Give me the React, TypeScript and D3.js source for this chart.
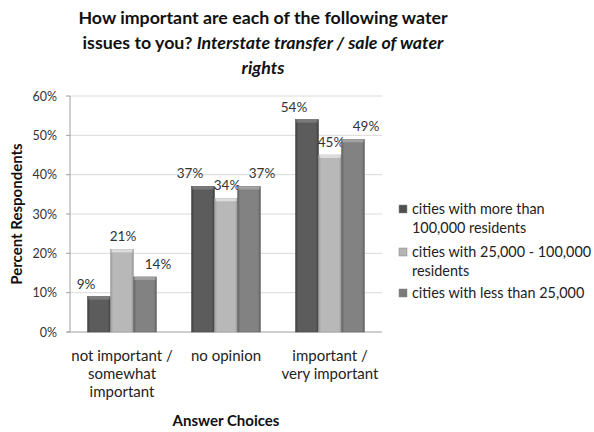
import React from "react";
import * as d3 from "d3";

const categories = ["not important / somewhat important", "no opinion", "important / very important"];
const categoryLines = [["not important /", "somewhat", "important"], ["no opinion"], ["important /", "very important"]];
const seriesNames = ["cities with more than 100,000 residents", "cities with 25,000 - 100,000 residents", "cities with less than 25,000"];
const legendLines = [["cities with more than", "100,000 residents"], ["cities with 25,000 - 100,000", "residents"], ["cities with less than 25,000"]];
const big = [9, 37, 54];
const mid = [21, 34, 45];
const small = [14, 37, 49];
const seriesValues = [big, mid, small];
const yTicks = [0, 10, 20, 30, 40, 50, 60];

const colors = [
  { edge: "#3e3e3e", mid: "#5c5c5c", top: "#7a7a7a" },
  { edge: "#9a9a9a", mid: "#b8b8b8", top: "#dcdcdc" },
  { edge: "#626262", mid: "#828282", top: "#a2a2a2" },
];
const legendColors = ["#505050", "#b4b4b4", "#7a7a7a"];
const labelDx = [-13, 1, 13];

const FONT = "Lato, 'Open Sans', sans-serif";

export default function App() {
  const left = 70, right = 382, top = 96, bottom = 332;
  const x0 = d3.scaleBand().domain(categories).range([left, right]).paddingInner(0.337).paddingOuter(0.1685);
  const x1 = d3.scaleBand().domain(seriesNames.map((_, i) => String(i))).range([0, x0.bandwidth()]);
  const y = d3.scaleLinear().domain([0, 60]).range([bottom, top]);

  return (
    <svg width={594} height={432} style={{ position: "absolute", left: 0, top: 0, background: "#fff" }} fontFamily={FONT}>
      <defs>
        {colors.map((c, i) => (
          <linearGradient key={i} id={`g${i}`} x1="0" x2="1" y1="0" y2="0">
            <stop offset="0" stopColor={c.edge} />
            <stop offset="0.12" stopColor={c.mid} />
            <stop offset="0.5" stopColor={c.mid} />
            <stop offset="0.88" stopColor={c.mid} />
            <stop offset="1" stopColor={c.edge} />
          </linearGradient>
        ))}
      </defs>
      <g fontWeight="bold" fontSize={17.8} fill="#111" textAnchor="middle">
        <text x={263} y={24}>How important are each of the following water</text>
        <text x={263} y={49}>
          issues to you? <tspan fontStyle="italic">Interstate transfer / sale of water</tspan>
        </text>
        <text x={263} y={74} fontStyle="italic">rights</text>
      </g>

      {yTicks.map((t) => (
        <g key={t}>
          {t > 0 && <line x1={left} x2={right} y1={y(t)} y2={y(t)} stroke="#dadada" strokeWidth={1} />}
          <line x1={left - 4} x2={left} y1={y(t)} y2={y(t)} stroke="#a0a0a0" />
          <text x={57} y={y(t) + 4.5} textAnchor="end" fontSize={12.5} fill="#333">{t}%</text>
        </g>
      ))}
      <line x1={left} x2={left} y1={top} y2={bottom} stroke="#a0a0a0" />
      <line x1={left - 3} x2={right} y1={bottom} y2={bottom} stroke="#a0a0a0" />

      {categories.map((c, ci) =>
        seriesValues.map((vals, si) => {
          const bx = (x0(c) as number) + (x1(String(si)) as number);
          const bw = x1.bandwidth();
          const by = y(vals[ci]);
          return (
            <g key={`${ci}-${si}`}>
              <rect x={bx} y={by} width={bw} height={bottom - by} fill={`url(#g${si})`} stroke={colors[si].edge} strokeWidth={0.5} />
              <rect x={bx + 1} y={by} width={bw - 2} height={3} fill={colors[si].top} />
              <text x={bx + bw / 2 + labelDx[si]} y={by - 8} textAnchor="middle" fontSize={13.5} fill="#333">
                {vals[ci]}%
              </text>
            </g>
          );
        })
      )}

      {categories.map((c, ci) => {
        const cx = (x0(c) as number) + x0.bandwidth() / 2;
        return (
          <text key={c} textAnchor="middle" fontSize={15} fill="#222">
            {categoryLines[ci].map((l, li) => (
              <tspan key={li} x={cx} y={361 + li * 18}>{l}</tspan>
            ))}
          </text>
        );
      })}

      <text x={226} y={426} textAnchor="middle" fontWeight="bold" fontSize={15} fill="#111">Answer Choices</text>
      <text transform={`translate(22,${214}) rotate(-90)`} textAnchor="middle" fontWeight="bold" fontSize={15} fill="#111">
        Percent Respondents
      </text>

      {legendLines.map((lines, i) => {
        const baseY = [214, 257, 298][i];
        return (
          <g key={i}>
            <rect x={399} y={baseY - 9} width={8} height={8} fill={legendColors[i]} stroke="#888" strokeWidth={0.5} />
            <text fontSize={14.4} fill="#222">
              {lines.map((l, li) => (
                <tspan key={li} x={412} y={baseY + li * 18.5}>{l}</tspan>
              ))}
            </text>
          </g>
        );
      })}
    </svg>
  );
}
